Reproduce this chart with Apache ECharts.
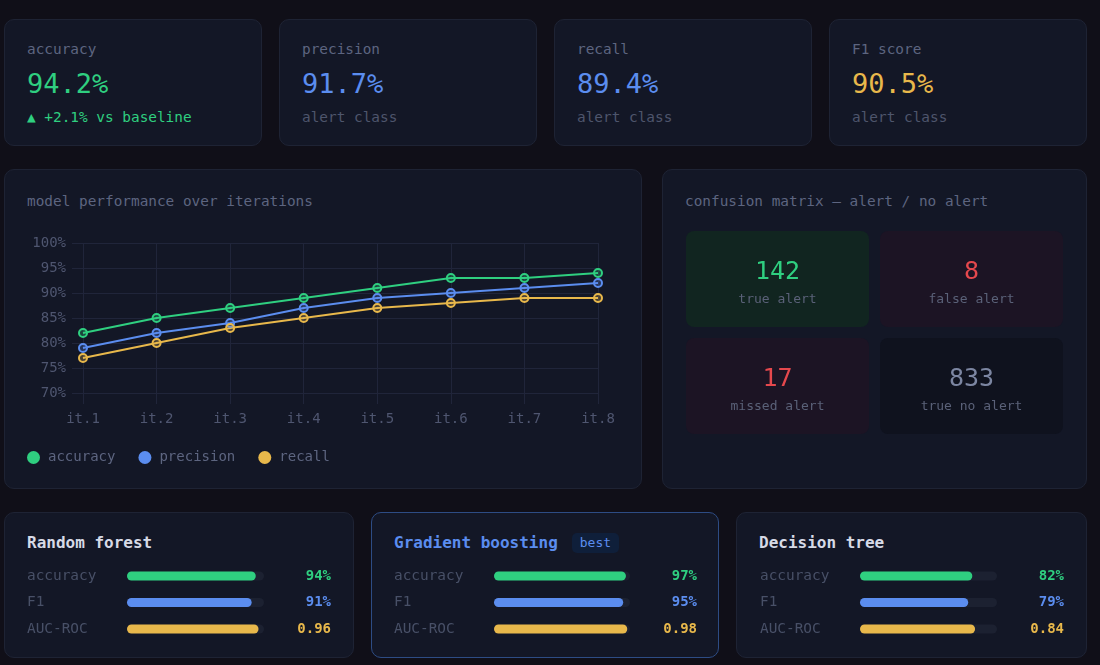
<!DOCTYPE html>
<html>
<head>
<meta charset="utf-8">
<script src="https://cdn.jsdelivr.net/npm/echarts@6/dist/echarts.min.js"></script>
<style>
  body {
    margin: 0;
    width: 1100px;
    height: 665px;
    overflow: hidden;
    position: relative;
    background: #100f18;
    font-family: 'DejaVu Sans Mono', monospace;
  }
  .card {
    position: absolute;
    box-sizing: border-box;
    background: #131726;
    border: 1px solid #1e2334;
    border-radius: 10px;
  }
  .card.best { border-color: #2d4c84; }
  .kpi-label { position: absolute; left: 22px; top: 20px; font-size: 14.4px; line-height: 18px; color: #5d6580; }
  .kpi-value { position: absolute; left: 22px; top: 48px; font-size: 27px; line-height: 32px; }
  .kpi-sub { position: absolute; left: 22px; top: 88px; font-size: 14.4px; line-height: 18px; color: #4e556c; }
  .card-title { position: absolute; left: 22px; top: 22px; font-size: 14.4px; line-height: 18px; color: #5d6580; }
  .model-title { position: absolute; left: 22px; top: 20px; font-size: 16px; line-height: 20px; font-weight: bold; color: #d6dae6; white-space: nowrap; }
  .badge { display: inline-block; margin-left: 14px; padding: 0 8px; font-size: 13px; font-weight: normal; line-height: 20px; border-radius: 5px; background: #0f1f3a; color: #5b8def; vertical-align: top; }
  .chart { position: absolute; }
</style>
</head>
<body>

<div class="card" style="left:4px;top:19px;width:258px;height:127px">
  <div class="kpi-label">accuracy</div>
  <div class="kpi-value" style="color:#2fcf80">94.2%</div>
  <div class="kpi-sub" style="color:#2fcf80">▲ +2.1% vs baseline</div>
</div>
<div class="card" style="left:279px;top:19px;width:258px;height:127px">
  <div class="kpi-label">precision</div>
  <div class="kpi-value" style="color:#5b8def">91.7%</div>
  <div class="kpi-sub">alert class</div>
</div>
<div class="card" style="left:554px;top:19px;width:258px;height:127px">
  <div class="kpi-label">recall</div>
  <div class="kpi-value" style="color:#5b8def">89.4%</div>
  <div class="kpi-sub">alert class</div>
</div>
<div class="card" style="left:829px;top:19px;width:258px;height:127px">
  <div class="kpi-label">F1 score</div>
  <div class="kpi-value" style="color:#e8b84b">90.5%</div>
  <div class="kpi-sub">alert class</div>
</div>

<div class="card" style="left:4px;top:169px;width:638px;height:320px">
  <div class="card-title">model performance over iterations</div>
</div>
<div class="card" style="left:662px;top:169px;width:425px;height:320px">
  <div class="card-title">confusion matrix — alert / no alert</div>
</div>

<div class="card" style="left:4px;top:512px;width:350px;height:146px">
  <div class="model-title">Random forest</div>
</div>
<div class="card best" style="left:371px;top:512px;width:348px;height:146px">
  <div class="model-title" style="color:#5b8def">Gradient boosting<span class="badge">best</span></div>
</div>
<div class="card" style="left:736px;top:512px;width:351px;height:146px">
  <div class="model-title">Decision tree</div>
</div>

<div id="lineChart" class="chart" style="left:4px;top:169px;width:638px;height:320px"></div>
<div id="matrixChart" class="chart" style="left:662px;top:169px;width:425px;height:320px"></div>
<div id="rfChart" class="chart" style="left:4px;top:512px;width:350px;height:146px"></div>
<div id="gbChart" class="chart" style="left:371px;top:512px;width:348px;height:146px"></div>
<div id="dtChart" class="chart" style="left:736px;top:512px;width:351px;height:146px"></div>

<script>
// data
const iterations = ['it.1', 'it.2', 'it.3', 'it.4', 'it.5', 'it.6', 'it.7', 'it.8']
const accuracy = [82, 85, 87, 89, 91, 93, 93, 94]
const precision = [79, 82, 84, 87, 89, 90, 91, 92]
const recall = [77, 80, 83, 85, 87, 88, 89, 89]

const matrixCols = ['alert', 'no alert']
const matrixRows = ['alert', 'no alert']
const matrixValues = [142, 8, 17, 833]
const matrixLabels = ['true alert', 'false alert', 'missed alert', 'true no alert']

const metricNames = ['accuracy', 'F1', 'AUC-ROC']
const rfScores = [0.94, 0.91, 0.96]
const gbScores = [0.97, 0.95, 0.98]
const dtScores = [0.82, 0.79, 0.84]

const font = "'DejaVu Sans Mono', monospace"
const green = '#2fcf80'
const blue = '#5b8def'
const yellow = '#e8b84b'
const gridColor = '#20253a'
const mutedText = '#4f5670'

// line chart
const lineChart = echarts.init(document.getElementById('lineChart'))
function lineSeries(name, data, color, fill) {
  return {
    name: name,
    type: 'line',
    xAxisIndex: 1,
    yAxisIndex: 1,
    data: data,
    symbol: 'circle',
    symbolSize: 8,
    lineStyle: { color: color, width: 2 },
    itemStyle: { color: fill, borderColor: color, borderWidth: 2 },
    emphasis: { disabled: true },
    animation: false
  }
}
lineChart.setOption({
  textStyle: { fontFamily: font },
  legend: {
    left: 23,
    top: 281.5,
    padding: 0,
    icon: 'circle',
    itemWidth: 13,
    itemHeight: 13,
    itemGap: 23,
    textStyle: { color: '#5d6580', fontSize: 14, fontFamily: font, padding: [0, 0, 0, 3] },
    data: [
      { name: 'accuracy', itemStyle: { color: green, borderWidth: 0 } },
      { name: 'precision', itemStyle: { color: blue, borderWidth: 0 } },
      { name: 'recall', itemStyle: { color: yellow, borderWidth: 0 } }
    ]
  },
  grid: [
    { left: 68, right: 44, top: 74, bottom: 96 },
    { left: 79, right: 44, top: 74, bottom: 96 }
  ],
  xAxis: [
    { gridIndex: 0, type: 'value', show: false, min: 0, max: 1 },
    {
      gridIndex: 1,
      type: 'category',
      data: iterations,
      boundaryGap: false,
      axisLine: { show: false },
      axisTick: { show: true, length: 11, lineStyle: { color: gridColor } },
      splitLine: { show: true, lineStyle: { color: gridColor } },
      axisLabel: { color: mutedText, fontSize: 14, margin: 19, fontFamily: font }
    }
  ],
  yAxis: [
    {
      gridIndex: 0,
      type: 'value',
      min: 70,
      max: 100,
      interval: 5,
      axisLine: { show: false },
      axisTick: { show: false },
      splitLine: { lineStyle: { color: gridColor } },
      axisLabel: { formatter: '{value}%', color: mutedText, fontSize: 14, margin: 6, fontFamily: font }
    },
    { gridIndex: 1, type: 'value', min: 70, max: 100, show: false }
  ],
  series: [
    lineSeries('accuracy', accuracy, green, 'rgba(47,207,128,0.25)'),
    lineSeries('precision', precision, blue, 'rgba(91,141,239,0.25)'),
    lineSeries('recall', recall, yellow, 'rgba(232,184,75,0.25)')
  ]
})

// confusion matrix
const cellFill = ['#112520', '#1c1424', '#1c1424', '#0f121e']
const cellNumColor = [green, '#e5484d', '#e5484d', '#7c86a2']
const matrixData = matrixValues.map(function (v, i) {
  return [i % 2, Math.floor(i / 2), v, i]
})
const matrixChart = echarts.init(document.getElementById('matrixChart'))
matrixChart.setOption({
  grid: { left: 18.5, right: 18.5, top: 56.5, bottom: 49.5 },
  xAxis: { type: 'category', data: matrixCols, show: false },
  yAxis: { type: 'category', data: matrixRows, inverse: true, show: false },
  series: [{
    type: 'custom',
    data: matrixData,
    animation: false,
    renderItem: function (params, api) {
      const c = api.coord([api.value(0), api.value(1)])
      const s = api.size([1, 1])
      const gap = 11
      const w = s[0] - gap
      const h = s[1] - gap
      const idx = api.value(3)
      return {
        type: 'group',
        children: [
          {
            type: 'rect',
            shape: { x: c[0] - w / 2, y: c[1] - h / 2, width: w, height: h, r: 8 },
            style: { fill: cellFill[idx] }
          },
          {
            type: 'text',
            x: c[0],
            y: c[1] - 7,
            style: {
              text: String(api.value(2)),
              fill: cellNumColor[idx],
              font: '25px ' + font,
              align: 'center',
              verticalAlign: 'middle'
            }
          },
          {
            type: 'text',
            x: c[0],
            y: c[1] + 21,
            style: {
              text: matrixLabels[idx],
              fill: '#5a6178',
              font: '13px ' + font,
              align: 'center',
              verticalAlign: 'middle'
            }
          }
        ]
      }
    }
  }]
})

// model comparison bars
const metricColors = [green, blue, yellow]
function fmtScore(v, i) {
  return i < 2 ? Math.round(v * 100) + '%' : v.toFixed(2)
}
function modelChart(id, scores, left, right) {
  const chart = echarts.init(document.getElementById(id))
  chart.setOption({
    grid: { left: left, right: right, top: 50.75, bottom: 15.75 },
    xAxis: { type: 'value', min: 0, max: 1, show: false },
    yAxis: [
      {
        type: 'category',
        data: metricNames,
        inverse: true,
        axisLine: { show: false },
        axisTick: { show: false },
        axisLabel: { align: 'left', margin: 100, color: '#485067', fontSize: 14.4, fontFamily: font }
      },
      {
        type: 'category',
        position: 'right',
        data: scores.map(fmtScore),
        inverse: true,
        axisLine: { show: false },
        axisTick: { show: false },
        axisLabel: {
          align: 'right',
          margin: 67,
          fontSize: 14,
          fontWeight: 'bold',
          fontFamily: font,
          color: function (value, index) { return metricColors[index] }
        }
      }
    ],
    series: [{
      type: 'bar',
      data: scores,
      barWidth: 9,
      showBackground: true,
      backgroundStyle: { color: '#1c2131', borderRadius: 5 },
      itemStyle: {
        borderRadius: 5,
        color: function (p) { return metricColors[p.dataIndex] }
      },
      animation: false
    }]
  })
}
modelChart('rfChart', rfScores, 123, 90)
modelChart('gbChart', gbScores, 123, 89)
modelChart('dtChart', dtScores, 124, 90)
</script>
</body>
</html>
